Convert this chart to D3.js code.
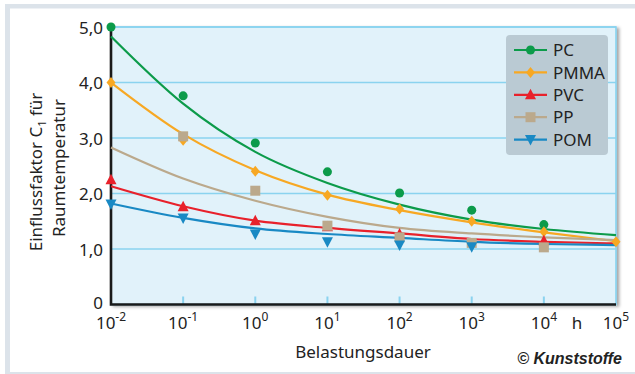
<!DOCTYPE html>
<html>
<head>
<meta charset="utf-8">
<script src="https://cdn.jsdelivr.net/npm/d3@7"></script>
<style>
  html, body { margin: 0; padding: 0; background: #fff; }
  svg { display: block; font-family: "Noto Sans", "Open Sans", sans-serif; }
</style>
</head>
<body>
<svg id="chart" width="635" height="374"></svg>
<script>
// Load duration in hours, as powers of ten
const exponents = [-2, -1, 0, 1, 2, 3, 4, 5];
const yTicks = [0, 1, 2, 3, 4, 5];
const yTickLabels = ["0", "1,0", "2,0", "3,0", "4,0", "5,0"];

const seriesNames = ["PC", "PMMA", "PVC", "PP", "POM"];
const seriesColors = ["#0c9b4a", "#f7a823", "#e8212b", "#bba98c", "#1989c4"];
const seriesSymbols = ["circle", "diamond", "triUp", "square", "triDown"];

// Measured points (null = no measurement)
const pcPoints   = [5.00, 3.76, 2.91, 2.39, 2.01, 1.70, 1.44, null];
const pmmaPoints = [4.00, 2.96, 2.40, 1.97, 1.72, 1.50, 1.31, 1.13];
const pvcPoints  = [2.25, 1.76, 1.51, 1.40, 1.27, null, 1.15, null];
const ppPoints   = [null, 3.03, 2.05, 1.42, 1.21, 1.11, 1.03, null];
const pomPoints  = [1.81, 1.56, 1.27, 1.13, 1.07, 1.04, null, null];

// Fitted trend curves
const pcCurve   = [4.83, 3.62, 2.75, 2.19, 1.80, 1.53, 1.36, 1.25];
const pmmaCurve = [4.00, 3.07, 2.42, 1.98, 1.70, 1.48, 1.30, 1.14];
const pvcCurve  = [2.13, 1.77, 1.51, 1.38, 1.28, 1.18, 1.13, 1.10];
const ppCurve   = [2.83, 2.27, 1.87, 1.58, 1.38, 1.28, 1.21, 1.16];
const pomCurve  = [1.82, 1.56, 1.37, 1.27, 1.20, 1.13, 1.09, 1.07];

const pointSets = [pcPoints, pmmaPoints, pvcPoints, ppPoints, pomPoints];
const curveSets = [pcCurve, pmmaCurve, pvcCurve, ppCurve, pomCurve];

const svg = d3.select("#chart");

// Outer frame
svg.append("rect").attr("x", 5).attr("y", 4).attr("width", 640).attr("height", 380).attr("fill", "#dce3ea");
svg.append("rect").attr("x", 10).attr("y", 8.5).attr("width", 640).attr("height", 363.5).attr("fill", "#ffffff");

const plot = { left: 111, right: 616, top: 27, bottom: 304.5 };

const x = d3.scaleLog().domain([1e-2, 1e5]).range([plot.left, plot.right]);
const y = d3.scaleLinear().domain([0, 5]).range([plot.bottom, plot.top]);

const defs = svg.append("defs");
const shadow = defs.append("filter").attr("id", "shadow")
  .attr("x", "-5%").attr("y", "-5%").attr("width", "115%").attr("height", "115%");
shadow.append("feDropShadow").attr("dx", 2.5).attr("dy", 1.5).attr("stdDeviation", 1.8)
  .attr("flood-color", "#000").attr("flood-opacity", 0.35);

// Plot background
svg.append("rect")
  .attr("x", plot.left).attr("y", plot.top)
  .attr("width", plot.right - plot.left).attr("height", plot.bottom - plot.top)
  .attr("fill", "#e1f2fa").attr("stroke", "#86d2ef").attr("stroke-width", 1.6)
  .attr("filter", "url(#shadow)");

// Horizontal gridlines
svg.append("g").selectAll("line").data(yTicks.filter(v => v > 0)).join("line")
  .attr("x1", plot.left).attr("x2", plot.right)
  .attr("y1", d => y(d)).attr("y2", d => y(d))
  .attr("stroke", "#8ad3ef").attr("stroke-width", 1.5);

// Short ticks on the time axis
svg.append("g").selectAll("line").data(exponents.slice(1, -1)).join("line")
  .attr("x1", d => x(Math.pow(10, d))).attr("x2", d => x(Math.pow(10, d)))
  .attr("y1", plot.bottom - 8).attr("y2", plot.bottom)
  .attr("stroke", "#8ad3ef").attr("stroke-width", 2);

// Black left and bottom axis lines
svg.append("path")
  .attr("d", `M${plot.left},${plot.top} V${plot.bottom} H${plot.right}`)
  .attr("fill", "none").attr("stroke", "#1a1a1a").attr("stroke-width", 2.6);

// Y tick labels
const yAxis = d3.axisLeft(y).tickValues(yTicks).tickSize(0).tickPadding(7)
  .tickFormat((d, i) => yTickLabels[i]);
const yg = svg.append("g").attr("transform", `translate(${plot.left - 1},0)`).call(yAxis);
yg.select(".domain").remove();
yg.selectAll("text").attr("font-size", 17).attr("fill", "#222")
  .attr("font-family", "'Noto Sans', sans-serif")
  .attr("dy", d => d === 0 ? "0.22em" : "0.36em");

// X tick labels: 10 with superscript exponent
const xl = svg.append("g");
exponents.forEach(e => {
  const t = xl.append("text")
    .attr("x", x(Math.pow(10, e)))
    .attr("y", 329)
    .attr("text-anchor", "middle")
    .attr("font-size", 17).attr("fill", "#222");
  t.append("tspan").text("10");
  t.append("tspan").attr("dy", -8).attr("font-size", 12).text(e < 0 ? "-" + (-e) : String(e));
});
svg.append("text").attr("x", 577).attr("y", 329).attr("text-anchor", "middle")
  .attr("font-size", 17).attr("fill", "#222").text("h");

// Axis titles
svg.append("text").attr("x", 363).attr("y", 358).attr("text-anchor", "middle")
  .attr("font-size", 17).attr("fill", "#222").text("Belastungsdauer");

const yt = svg.append("text").attr("transform", "translate(42,172) rotate(-90)")
  .attr("text-anchor", "middle").attr("font-size", 17).attr("fill", "#222");
yt.append("tspan").text("Einflussfaktor C");
yt.append("tspan").attr("font-size", 11).attr("dy", 4).text("1");
yt.append("tspan").attr("dy", -4).text(" für");
svg.append("text").attr("transform", "translate(65,168) rotate(-90)")
  .attr("text-anchor", "middle").attr("font-size", 17).attr("fill", "#222").text("Raumtemperatur");

svg.append("text").attr("x", 622).attr("y", 364).attr("text-anchor", "end")
  .attr("font-size", 16).attr("font-weight", "bold").attr("font-style", "italic")
  .attr("fill", "#222").attr("font-family", "'Liberation Sans', 'Noto Sans', sans-serif")
  .text("© Kunststoffe");

// Marker shapes
function symbolPath(kind) {
  switch (kind) {
    case "circle": return d3.symbol(d3.symbolCircle, 64)();
    case "diamond": return "M0,-5.5L4.5,0L0,5.5L-4.5,0Z";
    case "triUp": return "M0,-6L5.5,4.5L-5.5,4.5Z";
    case "triDown": return "M0,6L5.5,-4.5L-5.5,-4.5Z";
    case "square": return "M-5,-5H5V5H-5Z";
  }
}

const line = d3.line()
  .x((d, i) => x(Math.pow(10, exponents[i])))
  .y(d => y(d))
  .curve(d3.curveMonotoneX);

// Curves
seriesNames.forEach((name, s) => {
  svg.append("path").datum(curveSets[s])
    .attr("d", line)
    .attr("fill", "none").attr("stroke", seriesColors[s]).attr("stroke-width", 2.2);
});

// Measured points
seriesNames.forEach((name, s) => {
  const pts = pointSets[s].map((v, i) => ({ e: exponents[i], v })).filter(d => d.v != null);
  svg.append("g").selectAll("path").data(pts).join("path")
    .attr("transform", d => `translate(${x(Math.pow(10, d.e))},${y(d.v)})`)
    .attr("d", symbolPath(seriesSymbols[s]))
    .attr("fill", seriesColors[s]);
});

// Legend
const lg = svg.append("g");
lg.append("rect").attr("x", 506).attr("y", 35).attr("width", 102).attr("height", 120)
  .attr("rx", 4).attr("fill", "#bacad3");
seriesNames.forEach((name, s) => {
  const ly = 50 + s * 22.4;
  lg.append("line").attr("x1", 514).attr("x2", 547).attr("y1", ly).attr("y2", ly)
    .attr("stroke", seriesColors[s]).attr("stroke-width", 2.2);
  lg.append("path").attr("transform", `translate(530.5,${ly})`)
    .attr("d", symbolPath(seriesSymbols[s])).attr("fill", seriesColors[s]);
  lg.append("text").attr("x", 553).attr("y", ly).attr("dy", "0.36em")
    .attr("font-size", 17).attr("fill", "#222").text(name);
});
</script>
</body>
</html>
